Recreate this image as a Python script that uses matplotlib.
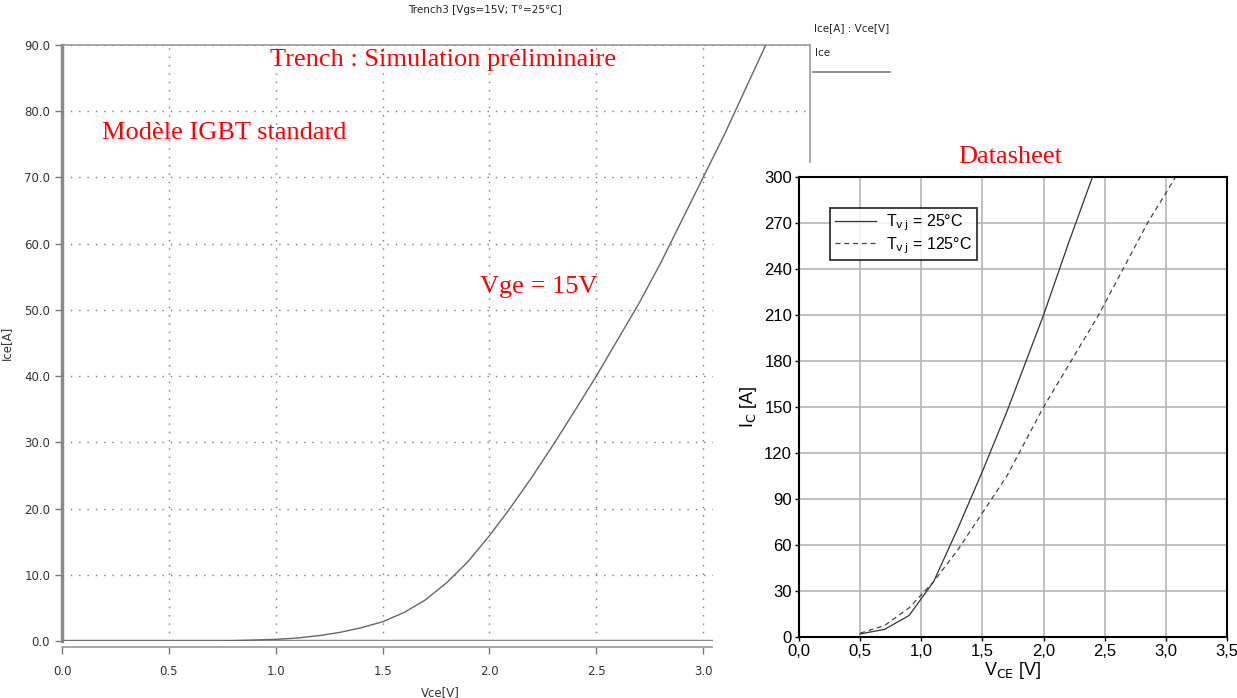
import matplotlib.pyplot as plt
from matplotlib.lines import Line2D
from matplotlib.patches import Rectangle

# simulation curve (left chart)
sim_vce = [0.0, 0.6, 0.8, 1.0, 1.1, 1.2, 1.3, 1.4, 1.5, 1.6, 1.7, 1.8, 1.9, 2.0,
           2.1, 2.2, 2.3, 2.4, 2.5, 2.6, 2.7, 2.8, 2.9, 3.0, 3.1, 3.2, 3.3]
sim_ice = [0, 0, 0.05, 0.25, 0.45, 0.8, 1.3, 2.0, 2.9, 4.3, 6.2, 8.8, 12.0, 15.9,
           20.2, 24.8, 29.7, 34.8, 40.0, 45.5, 51.0, 57.0, 63.5, 70.0, 76.5, 83.5, 90.5]
sim_xticks = [0.0, 0.5, 1.0, 1.5, 2.0, 2.5, 3.0]
sim_yticks = [0, 10, 20, 30, 40, 50, 60, 70, 80, 90]

# datasheet curves (right chart)
ds_v25 = [0.5, 0.7, 0.9, 1.1, 1.3, 1.5, 1.7, 2.0, 2.2, 2.4]
ds_i25 = [2, 5, 14, 36, 71, 108, 147, 210, 256, 300]
ds_v125 = [0.5, 0.7, 0.9, 1.1, 1.3, 1.5, 1.7, 2.0, 2.45, 2.65, 2.85, 3.08]
ds_i125 = [2.5, 7.5, 19, 36, 57, 81, 105, 150, 210, 240, 270, 300]
ds_xticks = [0.0, 0.5, 1.0, 1.5, 2.0, 2.5, 3.0, 3.5]
ds_xlabels = ['0,0', '0,5', '1,0', '1,5', '2,0', '2,5', '3,0', '3,5']
ds_yticks = [0, 30, 60, 90, 120, 150, 180, 210, 240, 270, 300]

W, H = 1237, 698
fig = plt.figure(figsize=(W / 100, H / 100), dpi=100)
fig.patch.set_facecolor('white')


def box(x0, y0, x1, y1):
    # pixel box (top-left origin) -> figure fraction rect
    return [x0 / W, (H - y1) / H, (x1 - x0) / W, (y1 - y0) / H]


# ---------- left: simulation ----------
ax = fig.add_axes(box(62, 45, 810, 641))
ax.plot(sim_vce, sim_ice, color='#666666', lw=1.0, zorder=3)
ax.axhline(0, color='#8a8a8a', lw=2.5, zorder=2)
ax.set_xlim(0, 3.5)
ax.set_ylim(0, 90)
ax.set_xticks(sim_xticks)
ax.set_xticklabels(['%.1f' % v for v in sim_xticks])
ax.set_yticks(sim_yticks)
ax.set_yticklabels(['%.1f' % v for v in sim_yticks])
ax.grid(True, color='#777777', ls=(0, (1, 5)), lw=1.0)
for s in ['top', 'right']:
    ax.spines[s].set_color('#999999')
    ax.spines[s].set_linewidth(1.2)
ax.spines['left'].set_color('#8a8a8a')
ax.spines['left'].set_linewidth(2.5)
ax.spines['bottom'].set_color('#999999')
ax.spines['bottom'].set_linewidth(1.2)
ax.spines['bottom'].set_position(('outward', 4))
ax.tick_params(axis='both', colors='#777777', labelcolor='#333333',
               labelsize=8.5, length=5, width=1)
ax.tick_params(axis='x', pad=8)
ax.set_xlabel('Vce[V]', fontsize=8.5, color='#333333', labelpad=3)
ax.set_ylabel('Ice[A]', fontsize=8.5, color='#333333', labelpad=8)
ax.xaxis.set_label_coords((440 - 62) / (810 - 62), -0.075)

fig.text(485 / W, 1 - 10 / H, 'Trench3 [Vgs=15V; T°=25°C]', fontsize=7.5,
         color='#222222', ha='center', va='center')
fig.text(814 / W, 1 - 28 / H, 'Ice[A] : Vce[V]', fontsize=7.5, color='#222222',
         va='center')
fig.text(815 / W, 1 - 53 / H, 'Ice', fontsize=7.5, color='#222222', va='center')
fig.lines.append(Line2D([813 / W, 890 / W], [1 - 72 / H, 1 - 72 / H],
                        transform=fig.transFigure, color='#777777', lw=1.2))

red = dict(color='red', family='Liberation Serif', fontsize=19, va='center')
fig.text(443 / W, 1 - 60 / H, 'Trench : Simulation préliminaire', ha='center', **red)
fig.text(102 / W, 1 - 133 / H, 'Modèle IGBT standard', ha='left', **red)
fig.text(480 / W, 1 - 287 / H, 'Vge = 15V', ha='left', **red)

# white overlay where the datasheet picture sits
fig.patches.append(Rectangle((713 / W, 0), (W - 713) / W, (H - 163) / H,
                             transform=fig.transFigure, facecolor='white',
                             edgecolor='none', zorder=2))

# ---------- right: datasheet ----------
ax2 = fig.add_axes(box(799, 177, 1227, 637))
ax2.set_zorder(3)
ax2.plot(ds_v25, ds_i25, color='#333333', lw=0.9, label='T$_{\\mathrm{v\\,j}}$ = 25°C')
ax2.plot(ds_v125, ds_i125, color='#444444', lw=0.9, ls=(0, (4, 3)),
         label='T$_{\\mathrm{v\\,j}}$ = 125°C')
ax2.set_xlim(0, 3.5)
ax2.set_ylim(0, 300)
ax2.set_xticks(ds_xticks)
ax2.set_xticklabels(ds_xlabels)
ax2.set_yticks(ds_yticks)
ax2.grid(True, color='#b5b5b5', lw=1.2)
for s in ax2.spines.values():
    s.set_color('black')
    s.set_linewidth(1.5)
ax2.tick_params(axis='both', labelsize=12, length=3, width=1, pad=2,
                labelfontfamily='Liberation Sans')
ax2.set_xlabel('V$_{\\mathrm{CE}}$ [V]', fontsize=13, family='Liberation Sans',
               labelpad=1)
ax2.set_ylabel('I$_{\\mathrm{C}}$ [A]', fontsize=13, family='Liberation Sans',
               labelpad=4)
leg = ax2.legend(loc='upper left', bbox_to_anchor=(0.054, 0.95),
                 prop={'family': 'Liberation Sans', 'size': 11.5},
                 frameon=True, fancybox=False, handlelength=2.6,
                 borderpad=0.3, labelspacing=0.1, handletextpad=0.6)
leg.get_frame().set_edgecolor('black')
leg.get_frame().set_linewidth(1.3)

fig.text(1010 / W, 1 - 157 / H, 'Datasheet', ha='center', zorder=4, **red)

fig.savefig('out.png', dpi=100)
